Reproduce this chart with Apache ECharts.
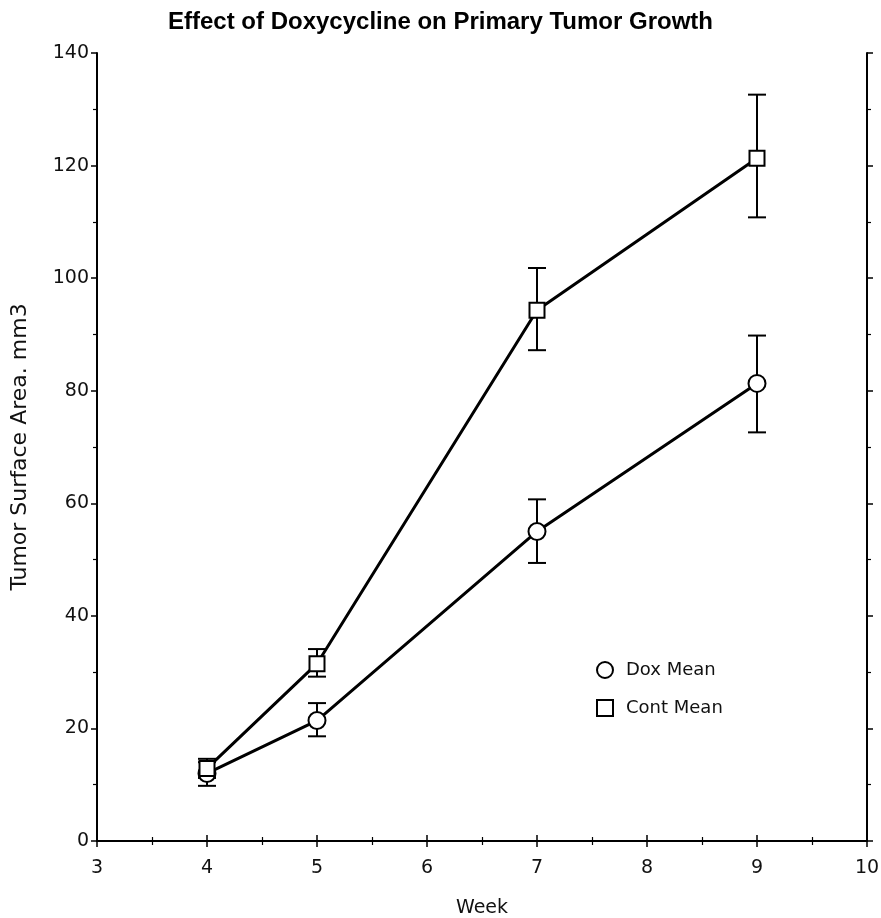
<!DOCTYPE html>
<html>
<head>
<meta charset="utf-8">
<script src="https://cdn.jsdelivr.net/npm/echarts@6/dist/echarts.min.js"></script>
<style>
html,body{margin:0;padding:0;background:#fff;}
#chart{width:881px;height:918px;}
</style>
</head>
<body>
<div id="chart"></div>
<script>
const weeks = [4, 5, 7, 9];
const doxMean = [12.0, 21.4, 55.0, 81.3];
const doxLow  = [9.8, 18.6, 49.4, 72.6];
const doxHigh = [14.0, 24.5, 60.7, 89.8];
const contMean = [12.9, 31.5, 94.3, 121.3];
const contLow  = [11.2, 29.2, 87.2, 110.8];
const contHigh = [14.6, 34.1, 101.8, 132.6];
const xTicks = [3, 4, 5, 6, 7, 8, 9, 10];
const yTicks = [0, 20, 40, 60, 80, 100, 120, 140];

const font = '"DejaVu Sans", Arial, sans-serif';
const titleFont = '"Liberation Sans", Arial, sans-serif';

function pairs(xs, ys) { return xs.map((x, i) => [x, ys[i]]); }
function errData(xs, lo, hi) { return xs.map((x, i) => [x, lo[i], hi[i]]); }

function errRender(params, api) {
  const x = api.value(0);
  const lo = api.coord([x, api.value(1)]);
  const hi = api.coord([x, api.value(2)]);
  const half = 9;
  const st = { stroke: '#000', lineWidth: 2 };
  return {
    type: 'group',
    children: [
      { type: 'line', shape: { x1: lo[0], y1: lo[1], x2: hi[0], y2: hi[1] }, style: st },
      { type: 'line', shape: { x1: lo[0] - half, y1: lo[1], x2: lo[0] + half, y2: lo[1] }, style: st },
      { type: 'line', shape: { x1: hi[0] - half, y1: hi[1], x2: hi[0] + half, y2: hi[1] }, style: st }
    ]
  };
}

const axisLine = { show: true, lineStyle: { color: '#000', width: 2 } };
const tick = { show: true, inside: false, length: 6, lineStyle: { color: '#000', width: 1.5 } };
const minor = { show: true, splitNumber: 2, length: 4, lineStyle: { color: '#000', width: 1.2 } };

const chart = echarts.init(document.getElementById('chart'));
chart.setOption({
  animation: false,
  backgroundColor: '#fff',
  title: {
    text: 'Effect of Doxycycline on Primary Tumor Growth',
    left: 'center', top: 5,
    textStyle: { fontFamily: titleFont, fontWeight: 'bold', fontSize: 24, color: '#000' }
  },
  legend: {
    orient: 'vertical', left: 591, top: 656, itemGap: 20,
    itemWidth: 16, itemHeight: 16,
    textStyle: { fontFamily: font, fontSize: 18, color: '#111', padding: [0, 0, 0, 8] },
    data: [
      { name: 'Dox Mean', icon: 'circle', itemStyle: { color: '#fff', borderColor: '#000', borderWidth: 2 } },
      { name: 'Cont Mean', icon: 'rect', itemStyle: { color: '#fff', borderColor: '#000', borderWidth: 2 } }
    ]
  },
  grid: { left: 97, right: 14, top: 53, bottom: 77, containLabel: false, outerBoundsMode: 'none' },
  xAxis: [{
    type: 'value', min: 3, max: 10, interval: 1,
    name: 'Week', nameLocation: 'middle', nameGap: 58,
    nameTextStyle: { fontFamily: font, fontSize: 19, color: '#111' },
    axisLine: axisLine, axisTick: tick, minorTick: minor,
    splitLine: { show: false },
    axisLabel: { fontFamily: font, fontSize: 19, color: '#111', margin: 18,
      formatter: v => xTicks.includes(v) ? String(v) : '' }
  }, {
    type: 'value', min: 3, max: 10, interval: 1, position: 'top',
    axisLine: axisLine, axisTick: tick, minorTick: minor,
    splitLine: { show: false }, axisLabel: { show: false }
  }],
  yAxis: [{
    type: 'value', min: 0, max: 140, interval: 20,
    name: 'Tumor Surface Area. mm3', nameLocation: 'middle', nameGap: 66,
    nameTextStyle: { fontFamily: font, fontSize: 22, color: '#111' },
    axisLine: axisLine, axisTick: tick, minorTick: minor,
    splitLine: { show: false },
    axisLabel: { fontFamily: font, fontSize: 19, color: '#111', margin: 8,
      formatter: v => yTicks.includes(v) ? String(v) : '' }
  }, {
    type: 'value', min: 0, max: 140, interval: 20, position: 'right',
    axisLine: axisLine, axisTick: tick, minorTick: minor,
    splitLine: { show: false }, axisLabel: { show: false }
  }],
  series: [
    { name: 'doxErr', type: 'custom', renderItem: errRender, data: errData(weeks, doxLow, doxHigh), z: 1, silent: true },
    { name: 'contErr', type: 'custom', renderItem: errRender, data: errData(weeks, contLow, contHigh), z: 1, silent: true },
    { name: 'Dox Mean', type: 'line', data: pairs(weeks, doxMean), z: 3,
      symbol: 'circle', symbolSize: 17,
      lineStyle: { color: '#000', width: 3 },
      itemStyle: { color: '#fff', borderColor: '#000', borderWidth: 2 } },
    { name: 'Cont Mean', type: 'line', data: pairs(weeks, contMean), z: 4,
      symbol: 'rect', symbolSize: 15,
      lineStyle: { color: '#000', width: 3 },
      itemStyle: { color: '#fff', borderColor: '#000', borderWidth: 2 } }
  ]
});
</script>
</body>
</html>
